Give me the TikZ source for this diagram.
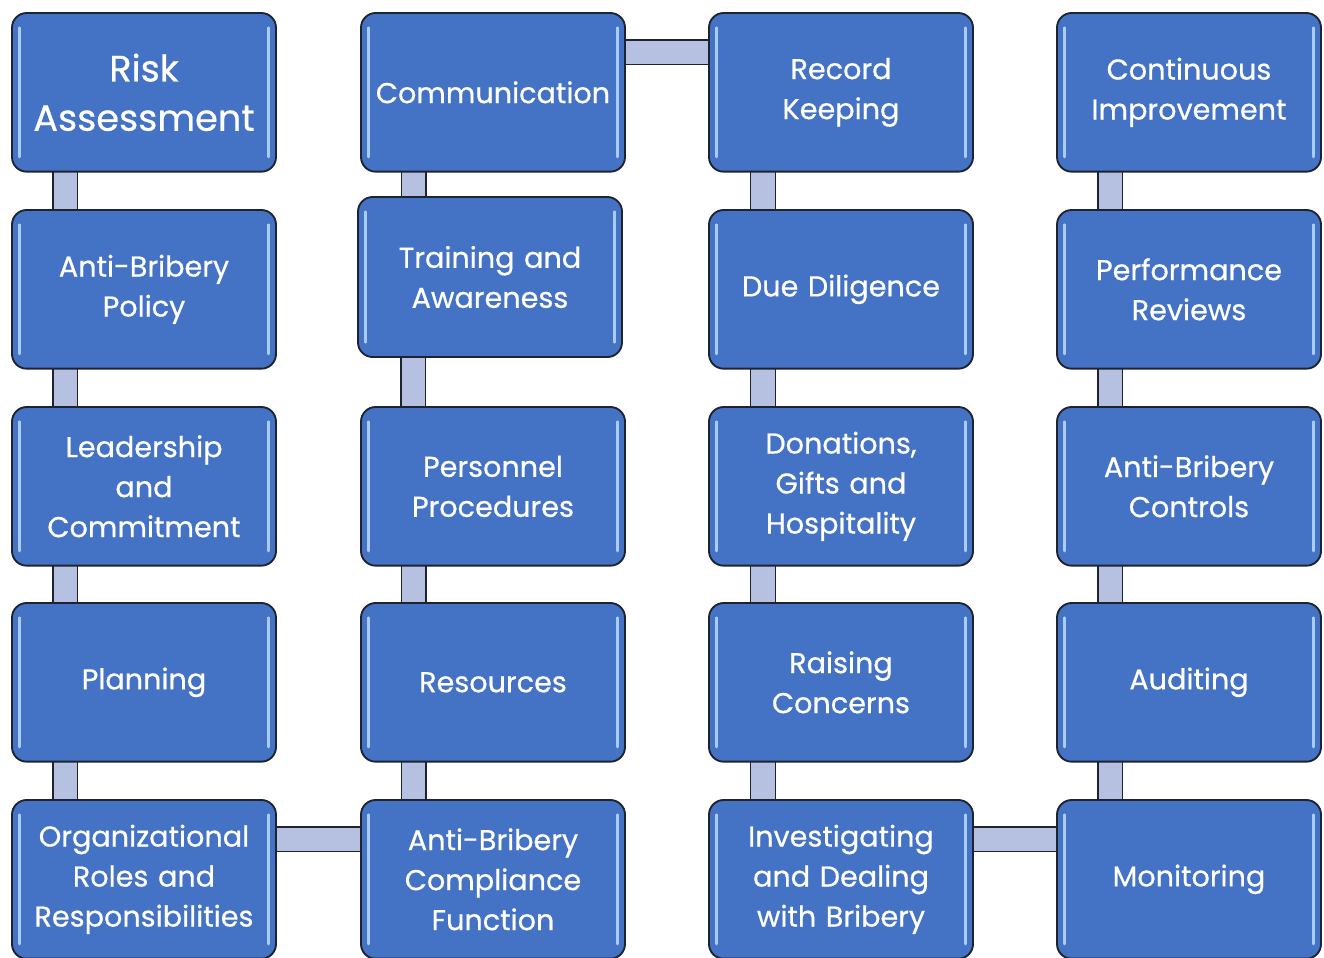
\documentclass[tikz,border=0pt]{standalone}
\usepackage{fontspec}
\setmainfont{Poppins}
\newfontfamily\boxfont{Poppins}[FakeBold=0.6]
\usetikzlibrary{backgrounds,calc}
\definecolor{boxblue}{HTML}{4472C4}
\definecolor{boxedge}{HTML}{1E2330}
\definecolor{glow}{HTML}{A9CDF2}
\definecolor{barfill}{HTML}{B6C0E0}
\tikzset{
  stage/.style={draw=boxedge, line width=1.4pt, fill=boxblue, rounded corners=11pt,
    anchor=north west, minimum width=198pt, minimum height=119pt, outer sep=0pt,
    inner sep=2pt, text width=194pt, align=center, text=white,
    font=\boxfont\fontsize{21.5}{30}\selectfont,
    path picture={
      \draw[glow, line width=2pt, line cap=round]
        ([xshift=5.5pt,yshift=-11pt]path picture bounding box.north west) --
        ([xshift=5.5pt,yshift=11pt]path picture bounding box.south west);
      \draw[glow, line width=2pt, line cap=round]
        ([xshift=-5.5pt,yshift=-11pt]path picture bounding box.north east) --
        ([xshift=-5.5pt,yshift=11pt]path picture bounding box.south east);
    }},
  big/.style={font=\boxfont\fontsize{27.5}{37}\selectfont},
  link/.style={draw=boxedge, line width=1.1pt, double=barfill, double distance=17.5pt},
}
\begin{document}
\begin{tikzpicture}[x=0.75pt, y=-0.75pt]
\clip (0,0) rectangle (1324,957);
% column 1
\node[stage, big] (a1) at (12,13) {Risk\\Assessment};
\node[stage] (a2) at (12,210) {Anti-Bribery\\Policy};
\node[stage] (a3) at (12,407) {Leadership\\and\\Commitment};
\node[stage] (a4) at (12,603) {Planning};
\node[stage] (a5) at (12,800) {Organizational\\Roles and\\Responsibilities};
% column 2
\node[stage] (b1) at (361,13) {Communication};
\node[stage, minimum height=120pt] (b2) at (358,197) {Training and\\Awareness};
\node[stage] (b3) at (361,407) {Personnel\\Procedures};
\node[stage] (b4) at (361,603) {Resources};
\node[stage] (b5) at (361,800) {Anti-Bribery\\Compliance\\Function};
% column 3
\node[stage] (c1) at (709,13) {Record\\Keeping};
\node[stage] (c2) at (709,210) {Due Diligence};
\node[stage] (c3) at (709,407) {Donations,\\Gifts and\\Hospitality};
\node[stage] (c4) at (709,603) {Raising\\Concerns};
\node[stage] (c5) at (709,800) {Investigating\\and Dealing\\with Bribery};
% column 4
\node[stage] (d1) at (1057,13) {Continuous\\Improvement};
\node[stage] (d2) at (1057,210) {Performance\\Reviews};
\node[stage] (d3) at (1057,407) {Anti-Bribery\\Controls};
\node[stage] (d4) at (1057,603) {Auditing};
\node[stage] (d5) at (1057,800) {Monitoring};
\begin{scope}[on background layer]
  \fill[white] (0,0) rectangle (1324,957);
  \foreach \u/\v/\s in {a1/a2/40pt, a2/a3/40pt, a3/a4/40pt, a4/a5/40pt,
                        b1/b2/39.5pt, b2/b3/41.5pt, b3/b4/39.5pt, b4/b5/39.5pt,
                        c1/c2/40.5pt, c2/c3/40.5pt, c3/c4/40.5pt, c4/c5/40.5pt,
                        d1/d2/40pt, d2/d3/40pt, d3/d4/40pt, d4/d5/40pt}{
    \draw[link] ([xshift=\s]\u.south west) -- ([xshift=\s]\u.south west |- \v.north);
  }
  \draw[link] ([yshift=-29.5pt]b1.north east) -- ([yshift=-29.5pt]b1.north east -| c1.west);
  \draw[link] ([yshift=-29.5pt]a5.north east) -- ([yshift=-29.5pt]a5.north east -| b5.west);
  \draw[link] ([yshift=-29.5pt]c5.north east) -- ([yshift=-29.5pt]c5.north east -| d5.west);
\end{scope}
\end{tikzpicture}
\end{document}
